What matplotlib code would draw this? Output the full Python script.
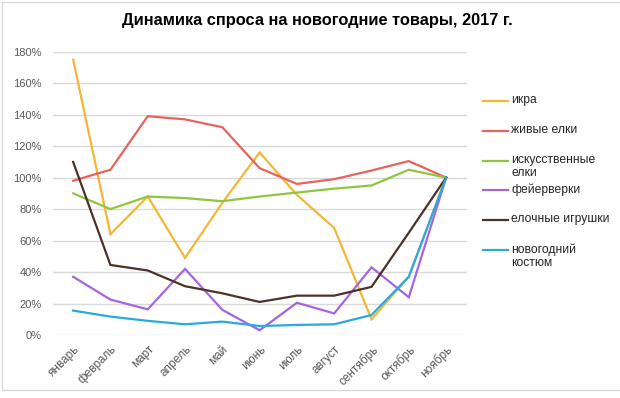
import matplotlib
matplotlib.use("Agg")
import matplotlib.pyplot as plt
from matplotlib.lines import Line2D
from matplotlib.patches import Rectangle
from matplotlib.ticker import FuncFormatter

plt.rcParams['font.family'] = ['Liberation Sans', 'DejaVu Sans']

months = ["январь", "февраль", "март", "апрель", "май", "июнь", "июль",
          "август", "сентябрь", "октябрь", "ноябрь"]

ikra = [175, 64, 88, 49, 84, 116, 89, 68, 10, 37, 100]
zhivye = [98, 105, 139, 137, 132, 106, 96, 99, 104.5, 110.5, 100]
iskusstv = [90, 80, 88, 87, 85, 88, 90.5, 93, 95, 105, 100]
feierverki = [37, 22.5, 16.3, 42, 16, 3, 20.5, 13.7, 43, 24, 100]
igrushki = [110, 44.5, 41, 31, 26.5, 21, 25, 25, 30.6, 65, 100]
kostyum = [15.5, 11.7, 9, 6.8, 8.5, 5.7, 6.4, 6.8, 12.7, 37, 100]

series_names = ["икра", "живые елки", "искусственные\nелки", "фейерверки",
                "елочные игрушки", "новогодний\nкостюм"]
series_values = [ikra, zhivye, iskusstv, feierverki, igrushki, kostyum]
series_colors = ["#F4B735", "#E8625E", "#8EC640", "#A465E0", "#4B3229", "#2AA9E1"]

y_ticks = [0, 20, 40, 60, 80, 100, 120, 140, 160, 180]

W, H = 620, 398
fig = plt.figure(figsize=(W / 100, H / 100), dpi=100)
fig.patch.set_facecolor("white")

ax = fig.add_axes([53 / W, (H - 335) / H, (467 - 53) / W, (335 - 51.7) / H])
x = list(range(len(months)))
for vals, col in zip(series_values, series_colors):
    ax.plot(x, vals, color=col, lw=1.6, solid_joinstyle="miter", zorder=3)

ax.set_xlim(-0.54, len(months) - 1 + 0.56)
ax.set_ylim(0, 180)
ax.set_yticks(y_ticks)
ax.yaxis.set_major_formatter(FuncFormatter(lambda v, p: f"{int(v)}%"))
ax.grid(axis="y", color="#D9D9D9", lw=1.0, zorder=0)
for s in ["top", "right", "left", "bottom"]:
    ax.spines[s].set_visible(False)
ax.tick_params(axis="y", length=0, pad=8, labelsize=8, labelcolor="#595959")
ax.set_xticks(x)
ax.set_xticklabels(months, rotation=45, ha="right", rotation_mode="anchor",
                   fontsize=8.5, color="#595959")
ax.tick_params(axis="x", length=0, pad=6)

fig.text(317 / W, 1 - 21 / H, "Динамика спроса на новогодние товары, 2017 г.",
         ha="center", va="center", fontsize=11.8, fontweight="bold", color="#000000")

# legend
leg_y = [101, 131, 161, 190, 220, 250]
for name, col, yy in zip(series_names, series_colors, leg_y):
    fy = 1 - yy / H
    fig.add_artist(Line2D([483 / W, 508 / W], [fy, fy], color=col, lw=1.6,
                          transform=fig.transFigure))
    fig.text(511 / W, fy + 6.5 / H, name, ha="left", va="top", fontsize=8.7,
             color="#262626", linespacing=1.1)

fig.add_artist(Rectangle((2 / W, 1 - 390 / H), 630 / W, 388 / H, fill=False,
                         edgecolor="#D9D9D9", lw=1.0, transform=fig.transFigure))

fig.savefig("out.png", dpi=100)
